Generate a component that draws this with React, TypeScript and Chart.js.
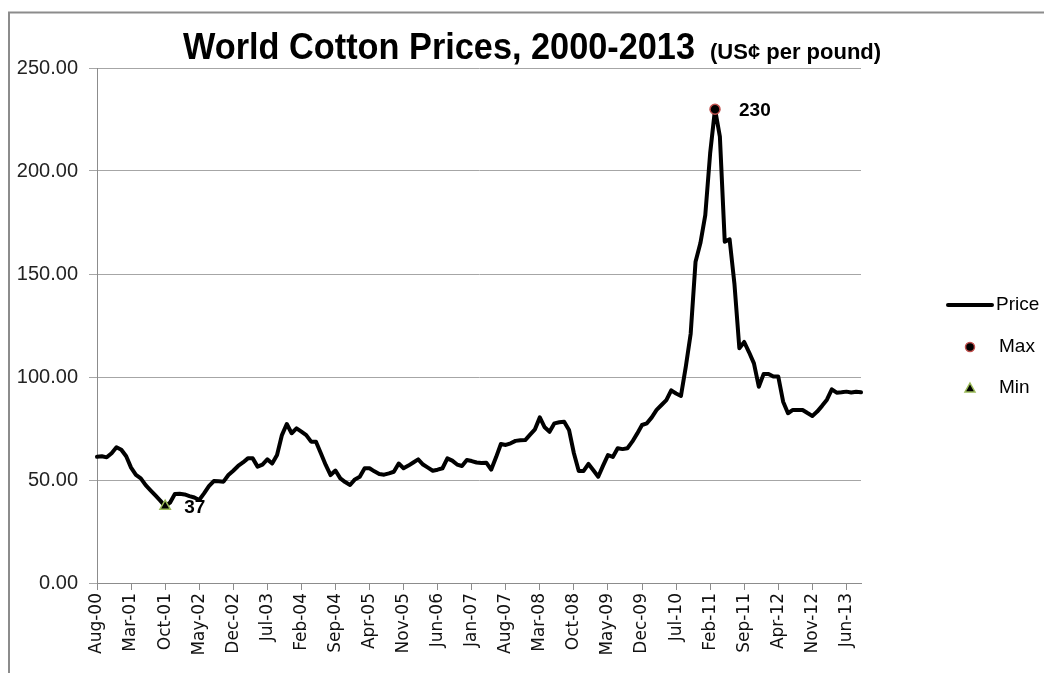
import { useEffect, useRef } from "react";
import { Chart, registerables } from "chart.js";

Chart.register(...registerables);

// ---- data ----
const START_YEAR = 2000;
const START_MONTH = 7; // Aug (0-based)
const MONTH_NAMES = ["Jan", "Feb", "Mar", "Apr", "May", "Jun", "Jul", "Aug", "Sep", "Oct", "Nov", "Dec"];

// Monthly world cotton price, US cents per pound, Aug-00 .. Sep-13
const PRICE = [
  61.3, 61.5, 61.0, 63.0, 65.9, 64.7, 61.5, 56.0, 52.5, 50.8,
  47.5, 45.0, 42.5, 40.0, 37.3, 39.0, 43.2, 43.3, 43.0, 42.2,
  41.5, 40.3, 43.5, 47.0, 49.5, 49.4, 49.2, 52.4, 54.5, 56.8,
  58.5, 60.5, 60.5, 56.5, 57.5, 60.0, 58.0, 62.1, 71.8, 77.2,
  72.7, 75.1, 73.5, 71.8, 68.6, 68.6, 63.0, 57.3, 52.4, 54.6,
  50.8, 49.0, 47.6, 50.3, 51.6, 55.7, 55.7, 54.2, 52.9, 52.6,
  53.2, 54.0, 58.0, 55.7, 57.0, 58.5, 60.0, 57.5, 56.0, 54.5,
  55.0, 55.7, 60.5, 59.4, 57.5, 56.8, 59.7, 59.2, 58.5, 58.2,
  58.4, 55.0, 61.0, 67.5, 67.0, 67.8, 69.0, 69.3, 69.4, 72.0,
  74.6, 80.4, 75.6, 73.4, 77.5, 78.0, 78.3, 74.3, 63.0, 54.4,
  54.4, 57.8, 54.7, 51.6, 57.0, 62.1, 61.2, 65.4, 65.0, 65.4,
  68.6, 72.5, 76.7, 77.5, 80.4, 84.0, 86.4, 88.8, 93.5, 92.0,
  90.8, 105.0, 121.0, 156.0, 165.0, 178.6, 208.6, 230.0, 216.7, 165.7,
  166.8, 145.0, 114.0, 117.0, 112.0, 106.6, 95.3, 101.5, 101.5, 100.2,
  100.2, 88.0, 82.4, 84.0, 84.0, 84.0, 82.5, 81.1, 83.2, 86.0,
  89.0, 94.0, 92.4, 92.6, 92.9, 92.5, 92.8, 92.6,
];

const CATEGORIES = PRICE.map((_, i) => {
  const m = START_MONTH + i;
  const yy = (START_YEAR + Math.floor(m / 12)) % 100;
  return `${MONTH_NAMES[m % 12]}-${String(yy).padStart(2, "0")}`;
});

const TICK_EVERY = 7;
const Y_MIN = 0;
const Y_MAX = 250;
const Y_STEP = 50;

const SERIES_NAMES = ["Price", "Max", "Min"];
const TITLE_MAIN = "World Cotton Prices, 2000-2013";
const TITLE_SUB = "(US\u00a2 per pound)";

const maxValue = Math.max(...PRICE);
const minValue = Math.min(...PRICE);
const maxIndex = PRICE.indexOf(maxValue);
const minIndex = PRICE.indexOf(minValue);
const MAX_SERIES = PRICE.map((v, i) => (i === maxIndex ? v : null));
const MIN_SERIES = PRICE.map((v, i) => (i === minIndex ? v : null));

const MAX_BORDER = "#c0504d";
const MIN_BORDER = "#9bbb59";

const framePlugin = {
  id: "frame",
  beforeDraw(chart: any) {
    const ctx = chart.ctx;
    ctx.save();
    ctx.fillStyle = "#ffffff";
    ctx.fillRect(0, 0, chart.width, chart.height);
    ctx.strokeStyle = "#8c8c8c";
    ctx.lineWidth = 2;
    ctx.beginPath();
    ctx.moveTo(1, chart.height);
    ctx.lineTo(1, 4.5);
    ctx.lineTo(chart.width, 4.5);
    ctx.stroke();
    ctx.restore();
  },
};

function fitText(ctx: any, text: string, x: number, y: number, targetW: number) {
  const w = ctx.measureText(text).width;
  const s = Math.min(1, targetW / w);
  ctx.save();
  ctx.translate(x, y);
  ctx.scale(s, 1);
  ctx.fillText(text, 0, 0);
  ctx.restore();
  return w * s;
}

const titlePlugin = {
  id: "customTitle",
  afterDraw(chart: any) {
    const ctx = chart.ctx;
    ctx.save();
    ctx.fillStyle = "#000";
    ctx.textBaseline = "alphabetic";
    ctx.textAlign = "left";
    ctx.font = 'bold 37px "Liberation Sans", Arial, sans-serif';
    const x0 = 175;
    const base = 51;
    const w = fitText(ctx, TITLE_MAIN, x0, base, 512);
    ctx.font = 'bold 22px "Liberation Sans", Arial, sans-serif';
    fitText(ctx, TITLE_SUB, x0 + w + 15, base, 190);
    ctx.restore();
  },
};

const legendPlugin = {
  id: "customLegend",
  afterDraw(chart: any) {
    const ctx = chart.ctx;
    const area = chart.chartArea;
    const lx = area.right + 87;
    const tx = area.right + 138;
    ctx.save();
    ctx.font = '19px "Liberation Sans", Arial, sans-serif';
    ctx.fillStyle = "#000";
    ctx.textBaseline = "middle";
    ctx.textAlign = "left";
    // Price
    let y = 297;
    ctx.strokeStyle = "#000";
    ctx.lineWidth = 4;
    ctx.lineCap = "round";
    ctx.beginPath();
    ctx.moveTo(lx, y);
    ctx.lineTo(lx + 44, y);
    ctx.stroke();
    ctx.fillText(SERIES_NAMES[0], tx - 3, y);
    // Max
    y = 339;
    ctx.beginPath();
    ctx.arc(lx + 22, y, 4.5, 0, Math.PI * 2);
    ctx.fillStyle = "#000";
    ctx.fill();
    ctx.lineWidth = 1.5;
    ctx.strokeStyle = MAX_BORDER;
    ctx.stroke();
    ctx.fillStyle = "#000";
    ctx.fillText(SERIES_NAMES[1], tx, y);
    // Min
    y = 380;
    ctx.beginPath();
    ctx.moveTo(lx + 22, y - 5);
    ctx.lineTo(lx + 27, y + 4);
    ctx.lineTo(lx + 17, y + 4);
    ctx.closePath();
    ctx.fillStyle = "#000";
    ctx.fill();
    ctx.lineWidth = 1.5;
    ctx.strokeStyle = MIN_BORDER;
    ctx.stroke();
    ctx.fillStyle = "#000";
    ctx.fillText(SERIES_NAMES[2], tx, y);
    ctx.restore();
  },
};

const pointLabelPlugin = {
  id: "pointLabels",
  afterDatasetsDraw(chart: any) {
    const ctx = chart.ctx;
    ctx.save();
    ctx.font = 'bold 19px "Liberation Sans", Arial, sans-serif';
    ctx.fillStyle = "#000";
    ctx.textBaseline = "middle";
    ctx.textAlign = "left";
    const items: [number, number, number, number][] = [
      [1, maxIndex, Math.round(maxValue), 24],
      [2, minIndex, Math.round(minValue), 19],
    ];
    for (const [ds, idx, val, dx] of items) {
      const el = chart.getDatasetMeta(ds).data[idx];
      if (el) ctx.fillText(String(val), el.x + dx, el.y + 2);
    }
    ctx.restore();
  },
};

export default function App() {
  const ref = useRef<HTMLCanvasElement | null>(null);

  useEffect(() => {
    if (!ref.current) return;
    const chart = new Chart(ref.current, {
      type: "line",
      data: {
        labels: CATEGORIES,
        datasets: [
          {
            label: SERIES_NAMES[0],
            data: PRICE,
            borderColor: "#000",
            borderWidth: 4,
            pointRadius: 0,
            tension: 0,
            borderJoinStyle: "round",
            borderCapStyle: "round",
            order: 3,
          },
          {
            label: SERIES_NAMES[1],
            data: MAX_SERIES,
            showLine: false,
            pointStyle: "circle",
            pointRadius: 5,
            pointBackgroundColor: "#000",
            pointBorderColor: MAX_BORDER,
            pointBorderWidth: 1.5,
            order: 1,
          },
          {
            label: SERIES_NAMES[2],
            data: MIN_SERIES,
            showLine: false,
            pointStyle: "triangle",
            pointRadius: 6,
            pointBackgroundColor: "#000",
            pointBorderColor: MIN_BORDER,
            pointBorderWidth: 1.5,
            order: 2,
          },
        ],
      },
      options: {
        animation: false,
        responsive: false,
        devicePixelRatio: 1,
        layout: { padding: { top: 60, left: 0, right: 183, bottom: 0 } },
        plugins: {
          legend: { display: false },
          title: { display: false },
          tooltip: { enabled: false },
        },
        scales: {
          x: {
            type: "category",
            offset: false,
            grid: {
              display: true,
              drawOnChartArea: false,
              drawTicks: true,
              tickLength: 7,
              color: "#8c8c8c",
            },
            border: { display: true, color: "#8c8c8c", width: 1 },
            ticks: {
              autoSkip: false,
              minRotation: 90,
              maxRotation: 90,
              padding: 3,
              color: "#111",
              font: { family: '"DejaVu Sans", sans-serif', size: 17 },
              callback: function (this: any, value: any, index: number) {
                return index % TICK_EVERY === 0 ? this.getLabelForValue(value) : null;
              },
            },
            afterFit(scale: any) {
              scale.height = 90;
            },
          },
          y: {
            min: Y_MIN,
            max: Y_MAX,
            grid: {
              color: "#a6a6a6",
              lineWidth: 1,
              drawTicks: true,
              tickLength: 8,
            },
            border: { display: true, color: "#8c8c8c", width: 1 },
            ticks: {
              stepSize: Y_STEP,
              padding: 11,
              color: "#222",
              font: { family: '"Liberation Sans", Arial, sans-serif', size: 20 },
              callback: (v: any) => Number(v).toFixed(2),
            },
            afterFit(scale: any) {
              scale.width = 89;
            },
          },
        },
      },
      plugins: [framePlugin, titlePlugin, legendPlugin, pointLabelPlugin],
    });
    return () => chart.destroy();
  }, []);

  return <canvas ref={ref} width={1036} height={665} style={{ display: "block" }} />;
}
